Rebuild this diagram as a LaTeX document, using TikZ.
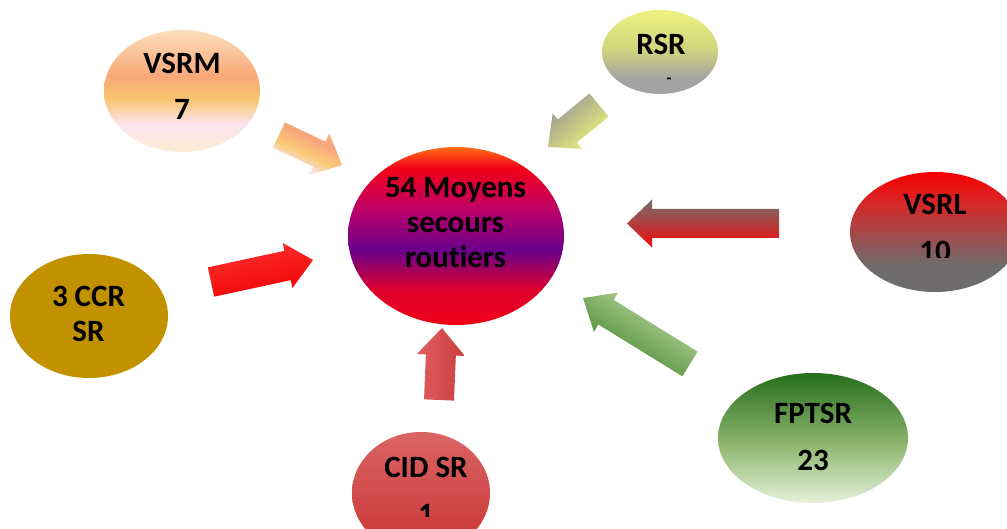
\documentclass[tikz,border=0pt]{standalone}
\usepackage{fontspec}
\setmainfont{Carlito}[Ligatures={NoCommon}]
\usetikzlibrary{calc,shapes.geometric}

% ellipse colours
\definecolor{ceOr}{RGB}{255,110,20}
\definecolor{ceRd}{RGB}{240,0,22}
\definecolor{ceRd2}{RGB}{222,0,45}
\definecolor{cePu}{RGB}{105,0,140}
\definecolor{ceMa}{RGB}{190,0,105}
\pgfdeclareverticalshading{centreshade}{100bp}{color(0bp)=(ceRd); color(25bp)=(ceRd); color(35bp)=(ceRd2); color(46bp)=(cePu); color(57.5bp)=(ceMa); color(69bp)=(ceRd); color(75bp)=(ceOr); color(100bp)=(ceOr)}

\definecolor{vmA}{RGB}{252,222,188}
\definecolor{vmB}{RGB}{248,168,118}
\definecolor{vmC}{RGB}{248,198,112}
\definecolor{vmD}{RGB}{250,228,240}
\definecolor{vmE}{RGB}{252,236,212}
\pgfdeclareverticalshading{vsrmshade}{100bp}{color(0bp)=(vmE); color(25bp)=(vmE); color(36.5bp)=(vmD); color(46.5bp)=(vmC); color(56bp)=(vmB); color(75bp)=(vmA); color(100bp)=(vmA)}

\definecolor{ccrcol}{RGB}{193,145,0}

\definecolor{cidA}{RGB}{218,100,100}
\definecolor{cidB}{RGB}{202,52,52}
\pgfdeclareverticalshading{cidshade}{100bp}{color(0bp)=(cidB); color(25bp)=(cidB); color(75bp)=(cidA); color(100bp)=(cidA)}

\definecolor{rsrA}{RGB}{238,242,128}
\definecolor{rsrB}{RGB}{210,212,125}
\definecolor{rsrC}{RGB}{163,163,163}
\pgfdeclareverticalshading{rsrshade}{100bp}{color(0bp)=(rsrC); color(25bp)=(rsrC); color(34bp)=(rsrC); color(52bp)=(rsrB); color(75bp)=(rsrA); color(100bp)=(rsrA)}

\definecolor{vlA}{RGB}{245,0,0}
\definecolor{vlB}{RGB}{215,40,40}
\definecolor{vlC}{RGB}{150,82,82}
\definecolor{vlD}{RGB}{110,108,108}
\pgfdeclareverticalshading{vsrlshade}{100bp}{color(0bp)=(vlD); color(25bp)=(vlD); color(36bp)=(vlD); color(46bp)=(vlC); color(62bp)=(vlB); color(75bp)=(vlA); color(100bp)=(vlA)}

\definecolor{fpA}{RGB}{38,110,28}
\definecolor{fpB}{RGB}{140,180,110}
\definecolor{fpC}{RGB}{228,242,218}
\pgfdeclareverticalshading{fptsrshade}{100bp}{color(0bp)=(fpC); color(25bp)=(fpC); color(48bp)=(fpB); color(75bp)=(fpA); color(100bp)=(fpA)}

% arrow colours
\definecolor{avA}{RGB}{250,190,130}
\definecolor{avB}{RGB}{248,165,125}
\definecolor{avC}{RGB}{250,202,118}
\definecolor{avD}{RGB}{252,226,236}
\pgfdeclareverticalshading{avshade}{100bp}{color(0bp)=(avD); color(25bp)=(avD); color(33bp)=(avD); color(45bp)=(avC); color(60bp)=(avB); color(75bp)=(avA); color(100bp)=(avA)}

\definecolor{arGray}{RGB}{150,150,150}
\definecolor{arYel}{RGB}{238,244,118}
\pgfdeclareverticalshading{arshade}{100bp}{color(0bp)=(arYel); color(25bp)=(arYel); color(75bp)=(arGray); color(100bp)=(arGray)}

\definecolor{alGray}{RGB}{112,112,112}
\definecolor{alRed}{RGB}{242,10,10}
\pgfdeclareverticalshading{alshade}{100bp}{color(0bp)=(alRed); color(25bp)=(alRed); color(75bp)=(alGray); color(100bp)=(alGray)}

\definecolor{acA}{RGB}{255,50,50}
\definecolor{acB}{RGB}{240,0,0}
\pgfdeclareverticalshading{acshade}{100bp}{color(0bp)=(acB); color(25bp)=(acB); color(75bp)=(acA); color(100bp)=(acA)}

\definecolor{aiA}{RGB}{222,95,95}
\definecolor{aiB}{RGB}{205,62,62}
\pgfdeclareverticalshading{aishade}{100bp}{color(0bp)=(aiB); color(25bp)=(aiB); color(75bp)=(aiA); color(100bp)=(aiA)}

\definecolor{afL}{RGB}{198,222,168}
\definecolor{afD}{RGB}{55,125,35}
\pgfdeclareverticalshading{afshade}{100bp}{color(0bp)=(afD); color(25bp)=(afD); color(75bp)=(afL); color(100bp)=(afL)}

% block arrow: #1 tail, #2 tip, #3 half shaft, #4 half head, #5 head length, #6 style
\newcommand\blockarrow[6]{%
  \coordinate (#1-neck) at ($(#2)!#5!(#1)$);
  \path[#6] ($(#1)!#3!90:(#2)$) -- ($(#1-neck)!#3!90:(#2)$) -- ($(#1-neck)!#4!90:(#2)$)
    -- (#2) -- ($(#1-neck)!#4!-90:(#2)$) -- ($(#1-neck)!#3!-90:(#2)$) -- ($(#1)!#3!-90:(#2)$) -- cycle;}

\begin{document}
\begin{tikzpicture}[x=1pt,y=-1pt,
  blob/.style={ellipse, inner sep=0pt, draw=none},
  lbl/.style={font=\bfseries\fontsize{31}{37}\selectfont, text=black, inner sep=0pt, anchor=base},
  arrowfill/.style={draw=none}]
\useasboundingbox (0,0) rectangle (1007,529);
\clip (0,0) rectangle (1007,529);

% ellipses
\node[blob, minimum width=216pt, minimum height=178pt, shading=centreshade] (centre) at (456,236) {};
\node[blob, minimum width=156pt, minimum height=122pt, shading=vsrmshade] (vsrm) at (182,91) {};
\node[blob, minimum width=158pt, minimum height=124pt, fill=ccrcol] (ccr) at (89,316) {};
\node[blob, minimum width=138pt, minimum height=122pt, shading=cidshade] (cid) at (421,493) {};
\node[blob, minimum width=116pt, minimum height=84pt, shading=rsrshade] (rsr) at (660,52) {};
\node[blob, minimum width=170pt, minimum height=120pt, shading=vsrlshade] (vsrl) at (935,232) {};
\node[blob, minimum width=190pt, minimum height=130pt, shading=fptsrshade] (fptsr) at (813,438) {};

% labels
\node[lbl] (centreA) at (455.5,198) {54 Moyens};
\node[lbl] (centreB) at (455.5,233) {secours};
\node[lbl] (centreC) at (455.5,268) {routiers};
\node[lbl] (vsrmA) at (182,74) {VSRM};
\node[lbl] (vsrmB) at (182,120) {7};
\node[lbl] (ccrA) at (88.5,307) {3 CCR};
\node[lbl] (ccrB) at (88.5,342) {SR};
\node[lbl] (cidA) at (426,477) {CID SR};
\begin{scope}
  \clip (352,432) rectangle (490,516);
  \node[lbl] (cidB) at (426,524) {1};
\end{scope}
\node[lbl] (rsrA) at (661,55) {RSR};
\node[lbl, font=\bfseries\fontsize{16}{18}\selectfont] (rsrB) at (669,83.5) {-};
\node[lbl] (vsrlA) at (935,215) {VSRL};
\begin{scope}
  \clip (850,172) rectangle (1007,258);
  \node[lbl] (vsrlB) at (935,262) {10};
\end{scope}
\node[lbl] (fptsrA) at (813,423) {FPTSR};
\node[lbl] (fptsrB) at (813,470) {23};

% arrow ends
\coordinate (tVM) at (279,135);  \coordinate (pVM) at (342,165);
\coordinate (tRS) at (599,105);  \coordinate (pRS) at (548,147);
\coordinate (tVL) at (779,223.5);\coordinate (pVL) at (627,223.5);
\coordinate (tCC) at (211,282);  \coordinate (pCC) at (313,260);
\coordinate (tCI) at (439,400);  \coordinate (pCI) at (442,328);
\coordinate (tFP) at (690,364);  \coordinate (pFP) at (583,298);

\blockarrow{tVM}{pVM}{14pt}{23pt}{25pt}{arrowfill, shading=avshade, shading angle=-25}
\blockarrow{tRS}{pRS}{15pt}{23pt}{25pt}{arrowfill, shading=arshade, shading angle=40}
\blockarrow{tVL}{pVL}{14.5pt}{24pt}{25pt}{arrowfill, shading=alshade}
\blockarrow{tCC}{pCC}{15pt}{23pt}{26pt}{arrowfill, shading=acshade, shading angle=12}
\blockarrow{tCI}{pCI}{15pt}{24pt}{27pt}{arrowfill, shading=aishade, shading angle=90}
\blockarrow{tFP}{pFP}{14.5pt}{23pt}{27pt}{arrowfill, shading=afshade, shading angle=-32}
\end{tikzpicture}
\end{document}
